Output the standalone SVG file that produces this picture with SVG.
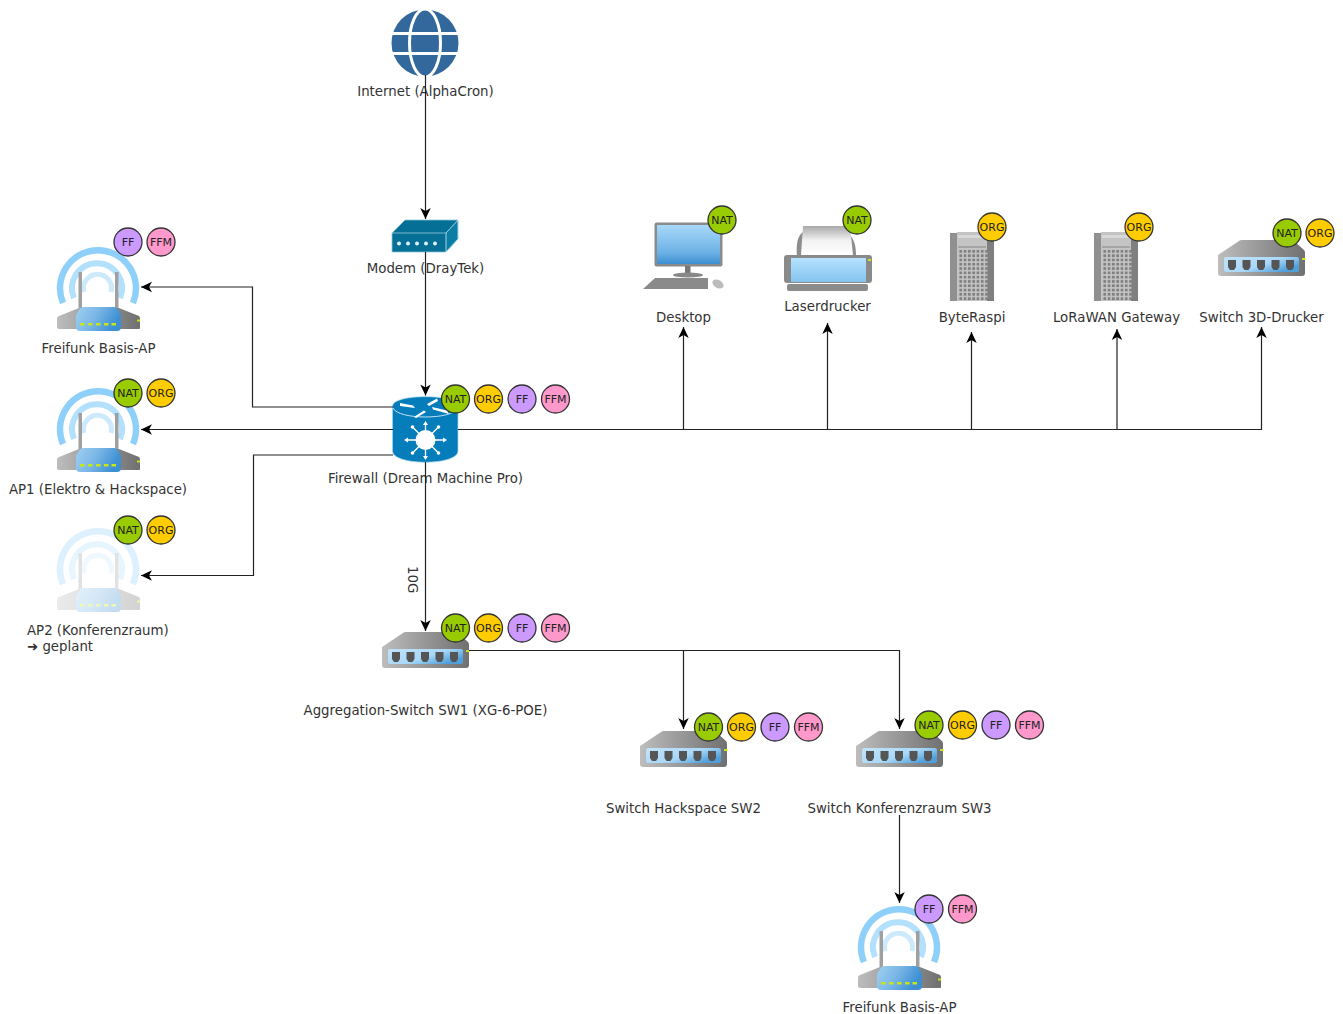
<svg xmlns="http://www.w3.org/2000/svg" width="1343" height="1014" viewBox="0 0 1343 1014">
<style>
text{font-family:"DejaVu Sans",sans-serif;fill:#333}
.l{font-size:13.33px;text-anchor:middle}
.b{font-size:11px;text-anchor:middle;fill:#222}
.c{stroke:#333;stroke-width:1.3}
.nat{fill:#99cc00}.org{fill:#ffcc00}.ff{fill:#cc99ff}.ffm{fill:#ff99cc}
.e{fill:none;stroke:#222;stroke-width:1.2;marker-end:url(#a)}
</style>
<defs>
<marker id="a" markerUnits="userSpaceOnUse" markerWidth="12" markerHeight="12" refX="11" refY="5.250" orient="auto" overflow="visible"><path d="M0 0L11 5.250L0 10.500L3 5.250Z" fill="#000"/></marker>
<linearGradient id="gb" x1="0" x2="1"><stop offset="0" stop-color="#bdbdbd"/><stop offset="1" stop-color="#707070"/></linearGradient>
<linearGradient id="gs" x1="0" y1="0" x2="1" y2=".6"><stop offset="0" stop-color="#c2e3fa"/><stop offset=".6" stop-color="#a9d8f8"/><stop offset="1" stop-color="#4f9fdc"/></linearGradient>
<linearGradient id="gr" x1="0" y1="0" x2="1" y2=".3"><stop offset="0" stop-color="#9fd0f2"/><stop offset=".5" stop-color="#7ab6e6"/><stop offset="1" stop-color="#3d8fd3"/></linearGradient>
<linearGradient id="gm" x1="0" y1="0" x2="0" y2="1"><stop offset="0" stop-color="#a8d8f8"/><stop offset=".7" stop-color="#6db2e6"/><stop offset="1" stop-color="#3d8ed2"/></linearGradient>
<linearGradient id="gq" x1="0" y1="0" x2="0" y2="1"><stop offset="0" stop-color="#b5e2ff"/><stop offset="1" stop-color="#85c4ef"/></linearGradient>
<linearGradient id="gp" x1="0" y1="0" x2="0" y2="1"><stop offset="0" stop-color="#a8a8a8"/><stop offset=".5" stop-color="#f2f2f2"/><stop offset="1" stop-color="#fff"/></linearGradient>
<pattern id="grid" width="4.300" height="4.300" patternUnits="userSpaceOnUse"><rect width="4.300" height="4.300" fill="#c4c4c4"/><rect x=".8" y=".8" width="2.700" height="2.700" fill="#808080"/></pattern>
<symbol id="router" width="84" height="86" overflow="visible">
<g fill="none"><path d="M6 56A38 38 0 1 1 76 56" stroke="#8fd0fb" stroke-width="6.500"/><path d="M17 51A25 25 0 1 1 63 51" stroke="#b3e0fd" stroke-width="6"/><path d="M27 45A14 14 0 1 1 54 45" stroke="#cdeafd" stroke-width="5"/></g>
<rect x="21.500" y="25" width="3.500" height="38" fill="#a0a0a0"/><rect x="58" y="25" width="3.500" height="38" fill="#a0a0a0"/>
<path d="M2 69L22 61H62L82 69Q83 70 83 72V81Q83 82 82 82H2Q0 82 0 80V71Q0 70 2 69Z" fill="url(#gb)"/>
<path d="M26 60H57Q60 60 62 64L64 68V80Q64 84 60 84H23Q19 84 19 80V68L22 63Q24 60 26 60Z" fill="url(#gr)"/>
<g fill="#c6e619"><rect x="23" y="76" width="4.500" height="2.500"/><rect x="31" y="76" width="4.500" height="2.500"/><rect x="39" y="76" width="4.500" height="2.500"/><rect x="47" y="76" width="4.500" height="2.500"/><rect x="54.500" y="76" width="4.500" height="2.500"/><rect x="80" y="72.500" width="3" height="2"/></g>
</symbol>
<symbol id="switch" width="88" height="36" overflow="visible">
<path d="M1 15L22 1Q23 0 25 0H74Q76 0 77 1L87 10Q88 11 88 13V33Q88 36 85 36H4Q1 36 1 33Z" fill="url(#gb)"/>
<rect x="7" y="17" width="75" height="15" rx="2" fill="url(#gs)"/>
<g fill="#555"><path d="M11 20H19V27L17 30H13L11 27Z"/><path d="M25.500 20H33.500V27L31.500 30H27.500L25.500 27Z"/><path d="M40 20H48V27L46 30H42L40 27Z"/><path d="M54.500 20H62.500V27L60.500 30H56.500L54.500 27Z"/><path d="M69 20H77V27L75 30H71L69 27Z"/></g>
<rect x="85" y="18" width="3.500" height="2" fill="#c6e619"/>
</symbol>
<symbol id="server" width="45" height="70" overflow="visible">
<rect x="0" y="1" width="7.500" height="68" fill="#909090"/><rect x="7" y="0" width="30" height="69" fill="#c4c4c4"/><rect x="37" y="1" width="7" height="68" fill="#7f7f7f"/>
<rect x="8" y="3" width="28" height="3" fill="#d8d8d8"/><rect x="8" y="14" width="28" height="2" fill="#a5a5a5"/>
<rect x="8" y="18" width="29.500" height="50" fill="url(#grid)"/>
</symbol>
<g id="badge-nat"><circle r="14" class="nat c"/><text y="4" class="b">NAT</text></g>
<g id="badge-org"><circle r="14" class="org c"/><text y="4" class="b">ORG</text></g>
<g id="badge-ff"><circle r="14" class="ff c"/><text y="4" class="b">FF</text></g>
<g id="badge-ffm"><circle r="14" class="ffm c"/><text y="4" class="b">FFM</text></g>
</defs>
<rect width="1343" height="1014" fill="#fff"/>

<g id="internet">
<circle cx="425" cy="43" r="33.500" fill="#33689c"/>
<g fill="none" stroke="#fff" stroke-width="3"><ellipse cx="425" cy="43" rx="15.500" ry="34"/><path d="M390 33.500H460M390 53.500H460"/></g>
<text x="425.500" y="96" class="l">Internet (AlphaCron)</text>
</g>

<g id="modem">
<path d="M392 233L405 220H458V239L446 252H392Z" fill="#056f96" stroke="#8cc8dc" stroke-width=".8"/>
<path d="M446 233L458 220V239L446 252Z" fill="#0a7ea5" stroke="#cfeaf3" stroke-width=".8"/><path d="M392 233H446" stroke="#cfeaf3" stroke-width=".6"/>
<g fill="#e0f2f8"><circle cx="399" cy="243.500" r="2"/><circle cx="408" cy="243.500" r="2"/><circle cx="417" cy="243.500" r="2"/><circle cx="426" cy="243.500" r="2"/><circle cx="435" cy="243.500" r="2"/></g>
<text x="425.500" y="273" class="l">Modem (DrayTek)</text>
</g>

<g id="firewall">
<path d="M392.500 406C392.500 393.500 458 393.500 458 406V451C458 466 392.500 466 392.500 451Z" fill="#057dba" stroke="#a8d8ee" stroke-width=".7"/>
<path d="M393 408C398 420 453 420 457.500 408" fill="none" stroke="#bfe3f3" stroke-width="1"/>
<g fill="#fff"><path d="M400 403L413 405.500L415 408L400 406Z"/><path d="M414 417L424 410.500L426 412L416 418Z"/><path d="M427 404L437 398.500L438 401L429 406Z"/><path d="M432 407L447 410.500L449 414L433 409.500Z"/></g>
<g stroke="#fff" stroke-width="1.300" fill="#fff"><path d="M425.500 423V458M406 440H445M412.500 427L438.500 453M438.500 427L412.500 453"/><circle cx="425.500" cy="440" r="10" stroke="none"/><g stroke="none"><path d="M425.500 421L428 425H423Z"/><path d="M425.500 460L428 456H423Z"/><path d="M404 440L408 437.500V442.500Z"/><path d="M447 440L443 437.500V442.500Z"/><circle cx="412.500" cy="427" r="1.800"/><circle cx="438.500" cy="427" r="1.800"/><circle cx="412.500" cy="453" r="1.800"/><circle cx="438.500" cy="453" r="1.800"/></g></g>
<text x="425.500" y="483" class="l">Firewall (Dream Machine Pro)</text>
</g>

<g id="ap-freifunk"><use href="#router" x="57" y="247"/><text x="98.500" y="353" class="l">Freifunk Basis-AP</text><use href="#badge-ff" x="128" y="242"/><use href="#badge-ffm" x="161" y="242"/></g>
<g id="ap1"><use href="#router" x="57" y="388"/><text x="98" y="494" class="l">AP1 (Elektro &amp; Hackspace)</text><use href="#badge-nat" x="128" y="393"/><use href="#badge-org" x="161" y="393"/></g>
<g id="ap2"><use href="#router" x="57" y="528" opacity=".3"/><text x="27" y="635" font-size="13.33">AP2 (Konferenzraum)</text><text x="27" y="651" font-size="13.33">➜ geplant</text><use href="#badge-nat" x="128" y="530"/><use href="#badge-org" x="161" y="530"/></g>

<g id="desktop">
<rect x="654.500" y="222.500" width="68" height="44" rx="2" fill="#8b8b8b"/><rect x="657" y="225" width="63" height="39" fill="url(#gm)"/>
<rect x="685" y="266" width="5.500" height="8" fill="#777"/><ellipse cx="688" cy="275" rx="15" ry="2.500" fill="#888"/>
<path d="M643 289L655 278H708V289Z" fill="#8a8a8a"/><ellipse cx="718" cy="284" rx="6" ry="4" fill="#bbb" transform="rotate(30 718 284)"/>
<use href="#badge-nat" x="722" y="220"/><text x="683.500" y="322" class="l">Desktop</text>
</g>
<g id="laserdrucker">
<path d="M797 256C796 240 799 235 803 232V226H850V235C854 240 856 245 856 256Z" fill="#8d8d8d"/><path d="M803 226H850L853 255H801Z" fill="url(#gp)"/>
<rect x="784" y="255" width="88" height="28" rx="3" fill="#8a8a8a"/><rect x="791" y="258" width="75" height="24" fill="url(#gq)"/><rect x="868" y="259" width="3" height="2" fill="#c6e619"/>
<rect x="787" y="284" width="81" height="7" rx="2" fill="#8c8c8c"/>
<use href="#badge-nat" x="857" y="220"/><text x="827.500" y="311" class="l">Laserdrucker</text>
</g>
<g id="byteraspi"><use href="#server" x="950" y="232"/><use href="#badge-org" x="992" y="227"/><text x="972" y="322" class="l">ByteRaspi</text></g>
<g id="lorawan"><use href="#server" x="1094" y="232"/><use href="#badge-org" x="1139" y="227"/><text x="1116.500" y="322" class="l">LoRaWAN Gateway</text></g>
<g id="switch-3d"><use href="#switch" x="1217" y="240"/><use href="#badge-nat" x="1287" y="233"/><use href="#badge-org" x="1320" y="233"/><text x="1261.500" y="322" class="l">Switch 3D-Drucker</text></g>

<g id="sw1"><use href="#switch" x="381" y="632"/><text x="425.500" y="715" class="l">Aggregation-Switch SW1 (XG-6-POE)</text><use href="#badge-nat" x="455.500" y="628"/><use href="#badge-org" x="488.500" y="628"/><use href="#badge-ff" x="522" y="628"/><use href="#badge-ffm" x="555.500" y="628"/></g>
<g id="sw2"><use href="#switch" x="639" y="731"/><text x="683.500" y="813" class="l">Switch Hackspace SW2</text><use href="#badge-nat" x="708.500" y="727"/><use href="#badge-org" x="741.500" y="727"/><use href="#badge-ff" x="775" y="727"/><use href="#badge-ffm" x="808.500" y="727"/></g>
<g id="sw3"><use href="#switch" x="855" y="731"/><text x="899.500" y="813" class="l">Switch Konferenzraum SW3</text><use href="#badge-nat" x="929" y="725"/><use href="#badge-org" x="962.500" y="725"/><use href="#badge-ff" x="996" y="725"/><use href="#badge-ffm" x="1029.500" y="725"/></g>
<g id="ap-freifunk-2"><use href="#router" x="858" y="906"/><text x="899.500" y="1012" class="l">Freifunk Basis-AP</text><use href="#badge-ff" x="929" y="909"/><use href="#badge-ffm" x="962.500" y="909"/></g>

<g id="badges-firewall"><use href="#badge-nat" x="455.500" y="399"/><use href="#badge-org" x="488.500" y="399"/><use href="#badge-ff" x="522" y="399"/><use href="#badge-ffm" x="555.500" y="399"/></g>

<g id="connectors">
<path class="e" d="M425.500 75V219"/>
<path class="e" d="M425.500 252V395.500"/>
<path class="e" d="M425.500 462V631"/>
<path class="e" d="M393 407H252.500V287H141"/>
<path class="e" d="M393 429.500H141"/>
<path class="e" d="M393 455H253.500V575.500H141"/>
<path class="e" d="M458 429.500H683.500V327"/>
<path class="e" d="M683.500 429.500H827.500V323"/>
<path class="e" d="M827.500 429.500H971.500V332"/>
<path class="e" d="M971.500 429.500H1117V329"/>
<path class="e" d="M1117 429.500H1261.500V327"/>
<path class="e" d="M469 650.500H683.500V729"/>
<path class="e" d="M683.500 650.500H899.500V729"/>
<path class="e" d="M899.500 815V903"/>
<text x="0" y="0" transform="translate(408 566) rotate(90)" font-size="13.33">10G</text>
</g>
</svg>
